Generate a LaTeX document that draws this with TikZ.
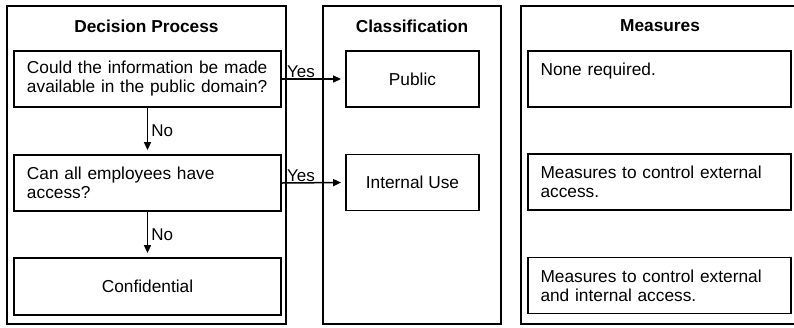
\documentclass[tikz,border=0pt]{standalone}
\usepackage{fontspec}
\setmainfont{Liberation Sans}
\usetikzlibrary{arrows.meta}
\begin{document}
\begin{tikzpicture}[x=1pt,y=1pt,
  panel/.style={draw,line width=1.7pt},
  box/.style={draw,line width=1.8pt,inner sep=0pt,font=\fontsize{17.3}{19}\selectfont},
  wbox/.style={box,minimum width=267pt,minimum height=56pt,text width=241pt,align=left},
  cbox/.style={box,minimum width=133pt,minimum height=56pt,align=center},
  mbox/.style={box,minimum width=263pt,minimum height=56pt,text width=238pt,align=left},
  ttl/.style={font=\fontsize{17.3}{19}\selectfont\bfseries},
  lbl/.style={font=\fontsize{17}{19}\selectfont,inner sep=1pt},
  arr/.style={line width=1.5pt,-{Triangle[length=8pt,width=7pt]},shorten >=4pt}]
\useasboundingbox (0,0) rectangle (794,-327);
\fill[white] (0,0) rectangle (794,-327);
% panels
\draw[panel] (7,-6) rectangle (286,-324);
\draw[panel] (323,-6) rectangle (501,-324);
\draw[panel] (521,-6) rectangle (800,-324);
\node[ttl] (t1) at (146.5,-26) {Decision Process};
\node[ttl] (t2) at (412,-26) {Classification};
\node[ttl] (t3) at (660,-26) {Measures};
% decision boxes
\node[wbox] (q1) at (147.5,-79) {Could the information be made\\available in the public domain?};
\node[wbox] (q2) at (147.5,-183) {Can all employees have\\access?};
\node[box,minimum width=267pt,minimum height=57pt] (q3) at (147.5,-286.5) {Confidential};
% classification
\node[cbox] (pub) at (412.5,-79) {Public};
\node[cbox] (int) at (412.5,-182.5) {Internal Use};
% measures
\node[mbox] (m1) at (659.5,-79) {None required.\\\mbox{}};
\node[mbox] (m2) at (659.5,-182) {Measures to control external\\access.};
\node[mbox] (m3) at (659.5,-285.5) {Measures to control external\\and internal access.};
% arrows
\draw[arr] (q1.south) -- node[lbl,right,xshift=2pt]{No} (q2.north);
\draw[arr] (q2.south) -- node[lbl,right,xshift=2pt]{No} (q3.north);
\draw[arr] (q1.east) -- (pub.west);
\draw[arr] (q2.east) -- (int.west);
\node[lbl,anchor=south west] (y1) at (286,-79) {Yes};
\node[lbl,anchor=south west] (y2) at (286,-183) {Yes};
\end{tikzpicture}
\end{document}
